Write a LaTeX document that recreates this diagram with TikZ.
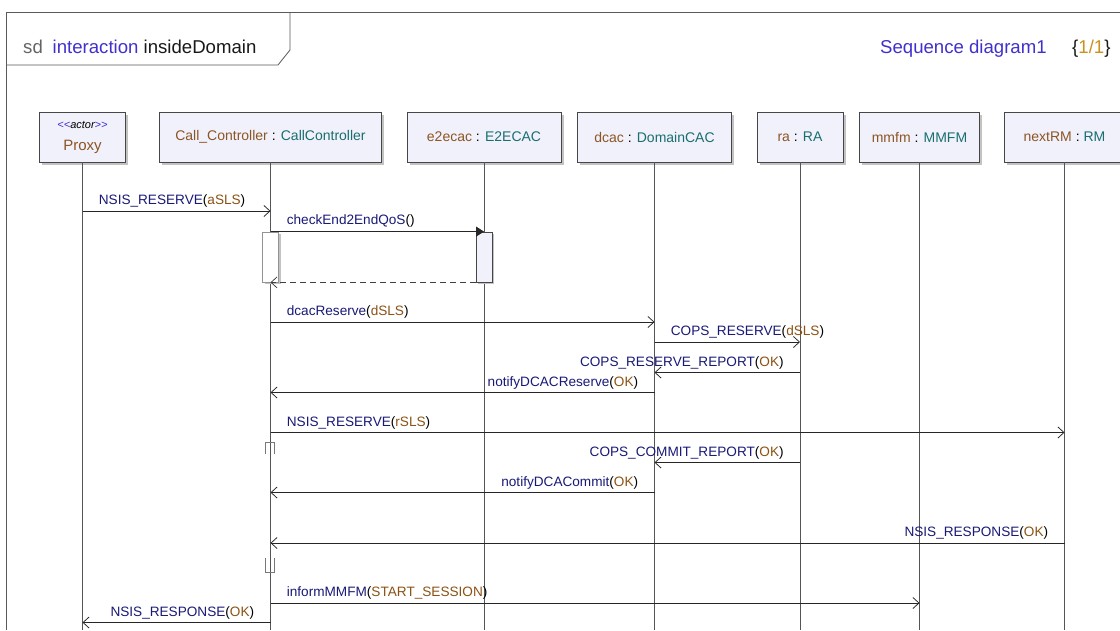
\documentclass[tikz,border=0pt]{standalone}
\usepackage{fontspec}
\setmainfont{Liberation Sans}
\newfontfamily\plainsans{Liberation Sans}
\usetikzlibrary{arrows.meta,shadows}
\definecolor{mname}{RGB}{25,25,120}
\definecolor{marg}{RGB}{140,82,20}
\definecolor{iname}{RGB}{140,85,35}
\definecolor{cname}{RGB}{25,110,110}
\definecolor{kw}{RGB}{64,48,205}
\definecolor{sdgray}{RGB}{100,100,100}
\definecolor{pagenum}{RGB}{205,145,25}
\definecolor{boxfill}{RGB}{241,241,252}
\definecolor{boxline}{RGB}{70,70,70}
\definecolor{shade}{RGB}{195,195,195}
\definecolor{lifegray}{RGB}{85,85,85}
\definecolor{framegray}{RGB}{90,90,90}
\definecolor{brgray}{RGB}{120,120,120}
\newcommand{\msgtxt}[2]{\textcolor{mname}{#1}(\textcolor{marg}{#2})}
\newcommand{\inst}[2]{\textcolor{iname}{#1} : \textcolor{cname}{#2}}
\newcommand{\mfont}{\fontsize{13.6}{15}\selectfont}
\begin{document}
\begin{tikzpicture}[x=1pt,y=-1pt,
  hdr/.style={draw=boxline, fill=boxfill, line width=0.8pt, minimum height=50pt, inner sep=0pt,
    font=\fontsize{14}{16}\selectfont,
    drop shadow={shadow xshift=2.5pt, shadow yshift=-2.5pt, fill=shade, opacity=1}},
  actbox/.style={line width=0.8pt, minimum width=16pt, minimum height=50pt, inner sep=0pt,
    drop shadow={shadow xshift=2pt, shadow yshift=-2pt, fill=shade, opacity=1}},
  life/.style={draw=lifegray, line width=0.8pt},
  frame/.style={draw=framegray, line width=0.8pt},
  msg/.style={draw=black!85, line width=0.75pt, -{Straight Barb[length=6pt,width=11pt,line width=0.75pt]}},
  callmsg/.style={draw=black!85, line width=0.75pt, -{Triangle[length=8pt,width=10pt]}},
  retmsg/.style={draw=black!75, line width=0.75pt, dash pattern=on 6pt off 4pt, -{Straight Barb[length=6pt,width=11pt,line width=0.75pt]}},
  lr/.style={pos=0, anchor=base west, inner sep=0pt, xshift=16pt, yshift=6.5pt, font=\mfont, text=black},
  ll/.style={pos=0, anchor=base east, inner sep=0pt, xshift=-16pt, yshift=6.5pt, font=\mfont, text=black},
  bracket/.style={draw=brgray, line width=0.8pt},
  ttl/.style={anchor=base west, inner sep=0pt, font=\fontsize{18.6}{20}\selectfont}
]
\useasboundingbox (0,0) rectangle (1120,630);
\fill[white] (0,0) rectangle (1120,630);

% frame
\draw[frame] (6,630) -- (6,12) -- (1120,12);
\draw[frame] (6,65) -- (278,65) -- (290,50) -- (290,12);
\node[ttl, text=sdgray] (sd) at (23,53) {sd};
\node[ttl, text=black!90] (title) at (52.5,53) {\textcolor{kw}{interaction} insideDomain};
\node[ttl, text=kw] (dname) at (880,53) {Sequence diagram1};
\node[ttl, text=black!90] (pg) at (1072,53) {\{\textcolor{pagenum}{1/1}\}};

% headers
\node[hdr, minimum width=86pt, align=center] (proxy) at (82.5,137)
  {{\plainsans\fontsize{11}{12}\selectfont\itshape\textcolor{kw}{<<}actor\textcolor{kw}{>>}}\\[6pt]{\fontsize{15}{16}\selectfont\textcolor{iname}{Proxy}}};
\node[hdr, minimum width=222pt] (cc) at (270.5,137) {\inst{Call\_Controller}{CallController}};
\node[hdr, minimum width=154pt] (e2ecac) at (484,137) {\inst{e2ecac}{E2ECAC}};
\node[hdr, minimum width=154pt] (dcac) at (654.5,137) {\inst{dcac}{DomainCAC}};
\node[hdr, minimum width=86pt] (ra) at (800,137) {\inst{ra}{RA}};
\node[hdr, minimum width=120pt] (mmfm) at (919.5,137) {\inst{mmfm}{MMFM}};
\node[hdr, minimum width=120pt] (nextrm) at (1064.5,137) {\inst{nextRM}{RM}};

% lifelines
\coordinate (bot) at (0,630);
\foreach \n in {proxy,cc,e2ecac,dcac,ra,mmfm,nextrm}
  \draw[life] (\n.south) -- (\n |- bot);

% y levels
\coordinate (ya) at (0,257);
\coordinate (y1) at (0,211);
\coordinate (y4) at (0,322);
\coordinate (y5) at (0,342);
\coordinate (y6) at (0,372.5);
\coordinate (y7) at (0,392.5);
\coordinate (y8) at (0,432.5);
\coordinate (y9) at (0,462.5);
\coordinate (y10) at (0,492.5);
\coordinate (y11) at (0,543);
\coordinate (y12) at (0,603);
\coordinate (y13) at (0,622.5);

% activations
\node[actbox, draw=brgray!80, fill=white] (ccact) at (cc |- ya) {};
\node[actbox, draw=boxline, fill=boxfill] (e2act) at (e2ecac |- ya) {};

% coregion brackets
\draw[bracket] (265.7,454.3) -- (265.7,442.7) -- (274.3,442.7) -- (274.3,454.3);
\draw[bracket] (265.7,558) -- (265.7,572.7) -- (274.3,572.7) -- (274.3,558);

% messages
\draw[msg] (proxy |- y1) -- (cc |- y1) node[lr] {\msgtxt{NSIS\_RESERVE}{aSLS}};
\draw[callmsg] (cc |- e2act.north) -- (e2act.north) node[lr, yshift=1pt] {\textcolor{mname}{checkEnd2EndQoS}()};
\draw[retmsg] (e2act.south west) -- (cc |- e2act.south);
\draw[msg] (cc |- y4) -- (dcac |- y4) node[lr] {\msgtxt{dcacReserve}{dSLS}};
\draw[msg] (dcac |- y5) -- (ra |- y5) node[lr] {\msgtxt{COPS\_RESERVE}{dSLS}};
\draw[msg] (ra |- y6) -- (dcac |- y6) node[ll] {\msgtxt{COPS\_RESERVE\_REPORT}{OK}};
\draw[msg] (dcac |- y7) -- (cc |- y7) node[ll] {\msgtxt{notifyDCACReserve}{OK}};
\draw[msg] (cc |- y8) -- (nextrm |- y8) node[lr] {\msgtxt{NSIS\_RESERVE}{rSLS}};
\draw[msg] (ra |- y9) -- (dcac |- y9) node[ll] {\msgtxt{COPS\_COMMIT\_REPORT}{OK}};
\draw[msg] (dcac |- y10) -- (cc |- y10) node[ll] {\msgtxt{notifyDCACommit}{OK}};
\draw[msg] (nextrm |- y11) -- (cc |- y11) node[ll] {\msgtxt{NSIS\_RESPONSE}{OK}};
\draw[msg] (cc |- y12) -- (mmfm |- y12) node[lr] {\msgtxt{informMMFM}{START\_SESSION}};
\draw[msg] (cc |- y13) -- (proxy |- y13) node[ll] {\msgtxt{NSIS\_RESPONSE}{OK}};
\end{tikzpicture}
\end{document}
